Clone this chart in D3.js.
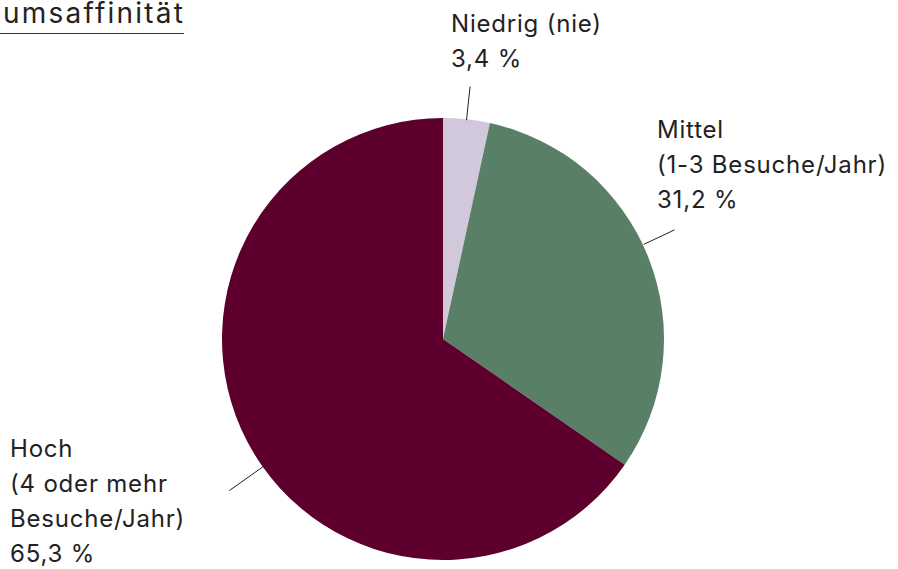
<!DOCTYPE html>
<html>
<head>
<meta charset="utf-8">
<script src="https://cdn.jsdelivr.net/npm/d3@7"></script>
<style>
  html, body { margin: 0; padding: 0; background: #fff; }
  .chart text { font-family: Inter, "Liberation Sans", sans-serif; fill: #222; }
</style>
</head>
<body>
<svg class="chart"></svg>
<script>
/*Chart data*/
const categories = ["Niedrig", "Mittel", "Hoch"]
const labelLines = [["Niedrig (nie)"], ["Mittel", "(1-3 Besuche/Jahr)"], ["Hoch", "(4 oder mehr", "Besuche/Jahr)"]]
const shares = [3.4, 31.2, 65.3]
const titleText = "umsaffinität"

/*Colours per slice*/
const colors = ["#d2c8dc", "#5a7f67", "#5e002d"]

/*Label placement (x, first baseline) and leader line tweaks*/
const labelPos = [[451, 31.5], [657, 138], [10, 457]]
const leaderTweak = [
  { da: 0, r0: 220, r1: 254 },
  { da: -3.7, r0: 222, r1: 256 },
  { da: -7.7, r0: 219, r1: 262 }
]

const width = 898, height = 569,
      cx = 443, cy = 339, radius = 221,
      lineHeight = 35

var chart = d3.select(".chart")
    .attr("width", width)
    .attr("height", height)

/*German number format: decimal comma*/
var de = d3.formatLocale({ decimal: ",", thousands: ".", grouping: [3], currency: ["", " €"] })
var pct = de.format(".1f")

var pie = d3.pie().sort(null).value(d => d)
var arcs = pie(shares)
var arc = d3.arc().innerRadius(0).outerRadius(radius)

/*Title (cut off at the left edge in the original)*/
chart.append("text")
    .attr("x", 3)
    .attr("y", 23)
    .attr("textLength", 180)
    .attr("lengthAdjust", "spacing")
    .style("font-size", "28px")
    .text(titleText)

chart.append("line")
    .attr("x1", 0).attr("x2", 184)
    .attr("y1", 33.5).attr("y2", 33.5)
    .attr("stroke", "#333")
    .attr("stroke-width", 1)

/*Slices*/
var g = chart.append("g")
    .attr("transform", "translate(" + cx + "," + cy + ")")

g.selectAll(".slice")
  .data(arcs)
  .enter()
  .append("path")
    .attr("class", "slice")
    .attr("fill", (d, i) => colors[i])
    .attr("d", arc)

/*Leader lines*/
g.selectAll(".leader")
  .data(arcs)
  .enter()
  .append("line")
    .attr("class", "leader")
    .attr("stroke", "#222")
    .attr("stroke-width", 1)
    .each(function (d, i) {
      var t = leaderTweak[i],
          a = (d.startAngle + d.endAngle) / 2 + t.da * Math.PI / 180
      d3.select(this)
        .attr("x1", Math.sin(a) * t.r0).attr("y1", -Math.cos(a) * t.r0)
        .attr("x2", Math.sin(a) * t.r1).attr("y2", -Math.cos(a) * t.r1)
    })

/*Labels: category lines plus share*/
var labels = chart.selectAll(".label")
  .data(categories)
  .enter()
  .append("text")
    .attr("class", "label")
    .style("font-size", "24px")
    .style("letter-spacing", "0.8px")

labels.each(function (c, i) {
  var lines = labelLines[i].concat([pct(shares[i]) + " %"]),
      p = labelPos[i]
  d3.select(this).selectAll("tspan")
    .data(lines)
    .enter()
    .append("tspan")
      .attr("x", p[0])
      .attr("y", (l, j) => p[1] + j * lineHeight)
      .text(l => l)
})
</script>
</body>
</html>
